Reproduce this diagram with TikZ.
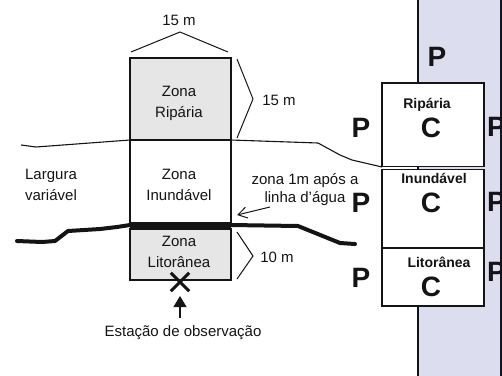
\documentclass[tikz,border=0pt]{standalone}
\usepackage{fontspec}
\setmainfont{Liberation Sans}
\usetikzlibrary{arrows.meta}
\definecolor{zonegray}{RGB}{230,230,230}
\definecolor{lav}{RGB}{221,221,240}
\definecolor{ink}{RGB}{20,20,20}
\begin{document}
\begin{tikzpicture}[x=1pt,y=-1pt,
  zonebox/.style={draw=ink, line width=1.2pt, inner sep=0pt, outer sep=0pt, anchor=north west},
  txt/.style={font=\fontsize{15}{21.6}\selectfont, align=center, inner sep=0pt, text=ink},
  smalltxt/.style={font=\fontsize{15}{18}\selectfont, align=center, inner sep=0pt, text=ink},
  boldlbl/.style={font=\fontsize{14}{16}\selectfont\bfseries, inner sep=0pt, text=ink},
  bigletter/.style={font=\fontsize{28}{30}\selectfont\bfseries, inner sep=0pt, text=ink},
  thinline/.style={draw=ink, line width=1.1pt, line join=round},
  thickline/.style={draw=ink, line width=4pt, line join=round, line cap=round},
  brace/.style={draw=ink, line width=1pt, line join=miter}]
\useasboundingbox (0,0) rectangle (502,375);
\clip (0,0) rectangle (502,375);

% right panel background
\fill[lav] (418,-5) rectangle (501,380);
\draw[ink, line width=1.2pt] (418,-5) -- (418,380);

% land surface line
\draw[thinline] (21,145) -- (36,147) -- (130,140);
\draw[thinline] (231,140) -- (318,143) -- (340,155) -- (352,160) -- (382,167);

% water line
\draw[thickline] (17,241) -- (42,242) -- (55,241) -- (68,231) -- (100,229) -- (117,227) -- (130,225);
\draw[thickline] (231,225) -- (298,226) -- (340,243) -- (355,244);

% zone column
\node[zonebox, fill=zonegray, minimum width=101pt, minimum height=82pt] (rip) at (130,58) {};
\node[zonebox, fill=white, minimum width=101pt, minimum height=85pt] (inu) at (130,140) {};
\node[zonebox, fill=zonegray, minimum width=101pt, minimum height=51pt] (lit) at (130,229) {};
\fill[ink] (130,221.5) rectangle (231,229.5);

\node[txt] (tRip) at (179,103.5) {Zona\\Ripária};
\node[txt] (tInu) at (179,185) {Zona\\Inundável};
\node[txt] (tLit) at (179,252) {Zona\\Litorânea};

% dimension brackets
\draw[brace] (131,52) -- (180,32) -- (228,52);
\node[txt] (w15) at (179,20) {15 m};
\draw[brace] (237,59) -- (253,99) -- (237,138);
\node[txt] (h15) at (279,100) {15 m};
\draw[brace] (237,232) -- (253,256) -- (237,279);
\node[txt] (h10) at (277,257) {10 m};

% side labels
\node[txt] (larg) at (51,185) {Largura\\variável};
\node[smalltxt] (zona1m) at (305,190) {zona 1m após a\\linha d’água};
\coordinate (zonatail) at (270,207);
\coordinate (zonatip) at (237,215);
\draw[draw=ink, line width=1pt, -{Straight Barb[length=9pt,width=11pt,line width=1pt]}] (zonatail) -- (zonatip);

% observation station
\node[inner sep=0pt, minimum size=18pt] (xmark) at (180,282) {};
\draw[ink, line width=3pt] (xmark.north west) -- (xmark.south east);
\draw[ink, line width=3pt] (xmark.south west) -- (xmark.north east);
\node[txt] (est) at (183,333) {Estação de observação};
\coordinate (esttail) at (180,318);
\coordinate (esttip) at (180,296);
\draw[draw=ink, line width=1.2pt, -{Triangle[length=11pt,width=13pt]}] (esttail) -- (esttip);

% right panel C boxes
\node[zonebox, fill=white, minimum width=102pt, minimum height=83.5pt] (cRip) at (382,83) {};
\node[zonebox, fill=white, minimum width=102pt, minimum height=78.5pt] (cInu) at (382,169.5) {};
\node[zonebox, fill=white, minimum width=102pt, minimum height=58pt] (cLit) at (382,248) {};

\node[boldlbl] (lRip) at (427,105) {Ripária};
\node[boldlbl] (lInu) at (434,178) {Inundável};
\node[boldlbl] (lLit) at (439,262) {Litorânea};
\node[bigletter] (C1) at (431,128) {C};
\node[bigletter] (C2) at (431,203) {C};
\node[bigletter] (C3) at (431,287) {C};

\node[bigletter] (Ptop) at (437,57) {P};
\node[bigletter] (PL1) at (361,128) {P};
\node[bigletter] (PL2) at (361,203) {P};
\node[bigletter] (PL3) at (361,278) {P};
\node[bigletter, anchor=west] (PR1) at (487,127) {P};
\node[bigletter, anchor=west] (PR2) at (487,202) {P};
\node[bigletter, anchor=west] (PR3) at (487,272) {P};

% right border of the panel, over the cut letters
\fill[lav] (501.6,-5) rectangle (510,380);
\draw[ink, line width=1.2pt] (501,-5) -- (501,380);
\end{tikzpicture}
\end{document}
